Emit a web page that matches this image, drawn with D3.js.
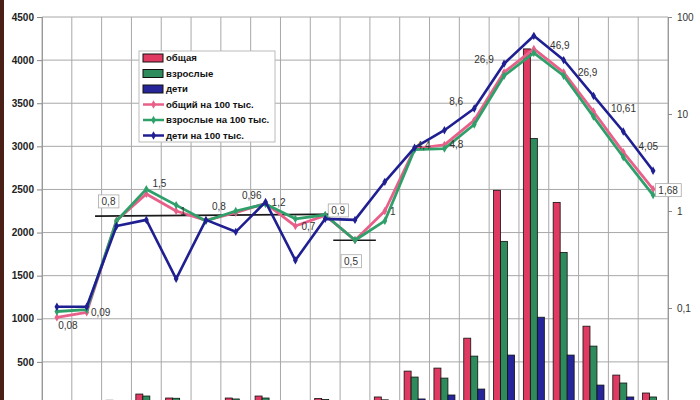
<!DOCTYPE html>
<html><head><meta charset="utf-8">
<script src="https://cdn.jsdelivr.net/npm/d3@7"></script>
<style>
html,body{margin:0;padding:0;background:#fff;}
svg{display:block;font-family:Arial,"Liberation Sans",sans-serif;}
</style></head>
<body><svg id="c" width="700" height="400"></svg>
<script>
// ---- data ----
const categories = ["1","2","3","4","5","6","7","8","9","10","11","12","13","14","15","16","17","18","19","20","21"];
const barSeries = ["общая","взрослые","дети"];
const totalCases = [5, 5, 55, 127, 81, 45, 81, 104, 40, 75, 40, 93, 393, 428, 775, 2490, 4130, 2350, 914, 347, 139];
const adultCases = [4, 4, 45, 104, 78, 35, 70, 81, 30, 65, 30, 60, 324, 312, 567, 1898, 3090, 1770, 683, 255, 93];
const childCases = [1, 1, 8, 20, 8, 10, 10, 20, 8, 10, 10, 30, 70, 116, 185, 579, 1018, 579, 231, 93, 40];
const lineSeries = ["общий на 100 тыс.","взрослые на 100 тыс.","дети на 100 тыс."];
const totalRate = [0.08, 0.09, 0.8, 1.5, 1, 0.8, 0.96, 1.2, 0.7, 0.9, 0.5, 1, 4.4, 4.8, 8.6, 26.9, 46.9, 26.9, 10.61, 4.05, 1.68];
const adultRate = [0.092, 0.096, 0.79, 1.68, 1.15, 0.79, 1.0, 1.18, 0.83, 0.91, 0.5, 0.79, 4.3, 4.4, 7.8, 24.8, 42.7, 24.8, 9.4, 3.6, 1.46];
const childRate = [0.103, 0.103, 0.70, 0.81, 0.20, 0.81, 0.61, 1.24, 0.31, 0.83, 0.81, 2.0, 4.5, 6.8, 11.4, 33, 64, 36, 15.4, 6.6, 2.6];
const rateLabels = ["0,08","0,09","0,8","1,5","1","0,8","0,96","1,2","0,7","0,9","0,5","1","4,4","4,8","8,6","26,9","46,9","26,9","10,61","4,05","1,68"];
const boxedLabels = [2, 9, 10, 20];
const leftTicks = [500,1000,1500,2000,2500,3000,3500,4000,4500];
const rightTicks = [0.1, 1, 10, 100];
const rightTickLabels = ["0,1","1","10","100"];
// reference levels (start category position, end category position, rate value)
const refStart = [1.78, 9.77];
const refEnd = [10.17, 11.2];
const refValue = [0.885, 0.5];

// ---- layout / style ----
const labelOffsets = [[11,8],[14,0],[-8,-19],[13,-10],[7,0],[13,-14],[16,-17],[13,-1],[13,0],[13,-5],[-4,21],[8,0],[9,-3],[12,0],[-18,-19],[-20,-13],[26,-3],[24,0],[30,-3],[25,-6],[15,1]];
const barColors = ["#e03a62","#2e8c5c","#26269a"];
const lineColors = ["#e8608a","#2fa06a","#1f1f92"];

const svg = d3.select("#c");
const L = 42, R = 668, T = 17, B = 405;

svg.append("rect").attr("x",0).attr("y",0).attr("width",4).attr("height",400).attr("fill","#4a2016");

const x = d3.scaleBand().domain(categories).range([L,R]).paddingInner(0).paddingOuter(0);
const xs = d3.scaleBand().domain(barSeries).range([0,x.bandwidth()]).paddingInner(0).paddingOuter(0.63);
const yL = d3.scaleLinear().domain([0,4500]).range([B,T]);
const yR = d3.scaleLog().domain([0.01,100]).range([B,T]);
const xc = c => x(c) + x.bandwidth()/2;
const xu = u => L + u * x.bandwidth();

// grid
const g = svg.append("g");
g.selectAll(".hg").data(leftTicks).join("line")
  .attr("x1",L).attr("x2",R).attr("y1",d=>yL(d)).attr("y2",d=>yL(d))
  .attr("stroke","#a8a8a8").attr("stroke-width",1);
g.selectAll(".vg").data(categories.concat(["end"])).join("line")
  .attr("x1",d=> d==="end"?R:x(d)).attr("x2",d=> d==="end"?R:x(d))
  .attr("y1",T).attr("y2",B).attr("stroke","#a8a8a8").attr("stroke-width",1);

// axes
const ax = svg.append("g").attr("transform",`translate(${L},0)`)
  .call(d3.axisLeft(yL).tickValues(leftTicks).tickSize(5).tickPadding(3).tickFormat(d3.format("d")));
ax.select(".domain").attr("stroke","#999");
ax.selectAll(".tick line").attr("stroke","#888");
ax.selectAll("text").attr("font-size",10).attr("font-weight","bold").attr("fill","#222");

const ar = svg.append("g").attr("transform",`translate(${R},0)`)
  .call(d3.axisRight(yR).tickValues(rightTicks).tickSize(4).tickPadding(5).tickFormat((d,i)=>rightTickLabels[i]));
ar.select(".domain").attr("stroke","#999");
ar.selectAll(".tick line").attr("stroke","#888");
ar.selectAll("text").attr("font-size",10).attr("fill","#333");

// bars
const barData = [totalCases, adultCases, childCases];
barData.forEach((arr,si)=>{
  svg.append("g").selectAll("rect").data(arr).join("rect")
    .attr("x",(d,i)=> x(categories[i]) + xs(barSeries[si]))
    .attr("width", xs.bandwidth())
    .attr("y", d=>yL(d)).attr("height", d=>yL(0)-yL(d))
    .attr("fill", barColors[si]).attr("stroke","#111").attr("stroke-width",0.8);
});

// reference lines
svg.append("g").selectAll("line").data(refValue).join("line")
  .attr("x1",(d,i)=>xu(refStart[i])).attr("x2",(d,i)=>xu(refEnd[i]))
  .attr("y1",d=>yR(d)).attr("y2",(d,i)=> yR(d) - (i===0?2:0))
  .attr("stroke","#1a1a1a").attr("stroke-width",1.6);

// lines
const rateData = [totalRate, adultRate, childRate];
const lineGen = d3.line().x((d,i)=>xc(categories[i])).y(d=>yR(d));
rateData.forEach((arr,si)=>{
  svg.append("path").datum(arr).attr("d",lineGen)
    .attr("fill","none").attr("stroke",lineColors[si]).attr("stroke-width", si===2?2.6:2.8)
    .attr("stroke-linejoin","round");
  svg.append("g").selectAll("path").data(arr).join("path")
    .attr("d", d3.symbol().type(d3.symbolDiamond).size(20))
    .attr("transform",(d,i)=>`translate(${xc(categories[i])},${yR(d)})`)
    .attr("fill", lineColors[si]);
});

// value labels
const lg = svg.append("g");
rateLabels.forEach((t,i)=>{
  const px = xc(categories[i]) + labelOffsets[i][0];
  const py = yR(totalRate[i]) + labelOffsets[i][1];
  const txt = lg.append("text").attr("x",px).attr("y",py).attr("dy","0.35em")
    .attr("text-anchor","middle").attr("font-size",10).attr("fill","#333").text(t);
  if (boxedLabels.includes(i)) {
    const bb = txt.node().getBBox();
    lg.insert("rect","text").attr("x",bb.x-3).attr("y",bb.y-1).attr("width",bb.width+6).attr("height",bb.height+2)
      .attr("fill","#fff").attr("stroke","#aaa").attr("stroke-width",0.8);
  }
});

// legend
const leg = svg.append("g");
leg.append("rect").attr("x",139).attr("y",51).attr("width",136).attr("height",91)
  .attr("fill","#fff").attr("stroke","#bbb").attr("stroke-width",1);
const rows = barSeries.concat(lineSeries);
rows.forEach((name,i)=>{
  const yy = 58 + i*15.5;
  if (i<3) {
    leg.append("rect").attr("x",143).attr("y",yy-4).attr("width",20).attr("height",8)
      .attr("fill",barColors[i]).attr("stroke","#111").attr("stroke-width",1);
  } else {
    leg.append("line").attr("x1",143).attr("x2",164).attr("y1",yy).attr("y2",yy)
      .attr("stroke",lineColors[i-3]).attr("stroke-width",2.5);
    leg.append("path").attr("d",d3.symbol().type(d3.symbolDiamond).size(20))
      .attr("transform",`translate(153.5,${yy})`).attr("fill",lineColors[i-3]);
  }
  leg.append("text").attr("x",166).attr("y",yy).attr("dy","0.35em")
    .attr("font-size",9.6).attr("font-weight","bold").attr("fill","#111").text(name);
});
</script></body></html>
